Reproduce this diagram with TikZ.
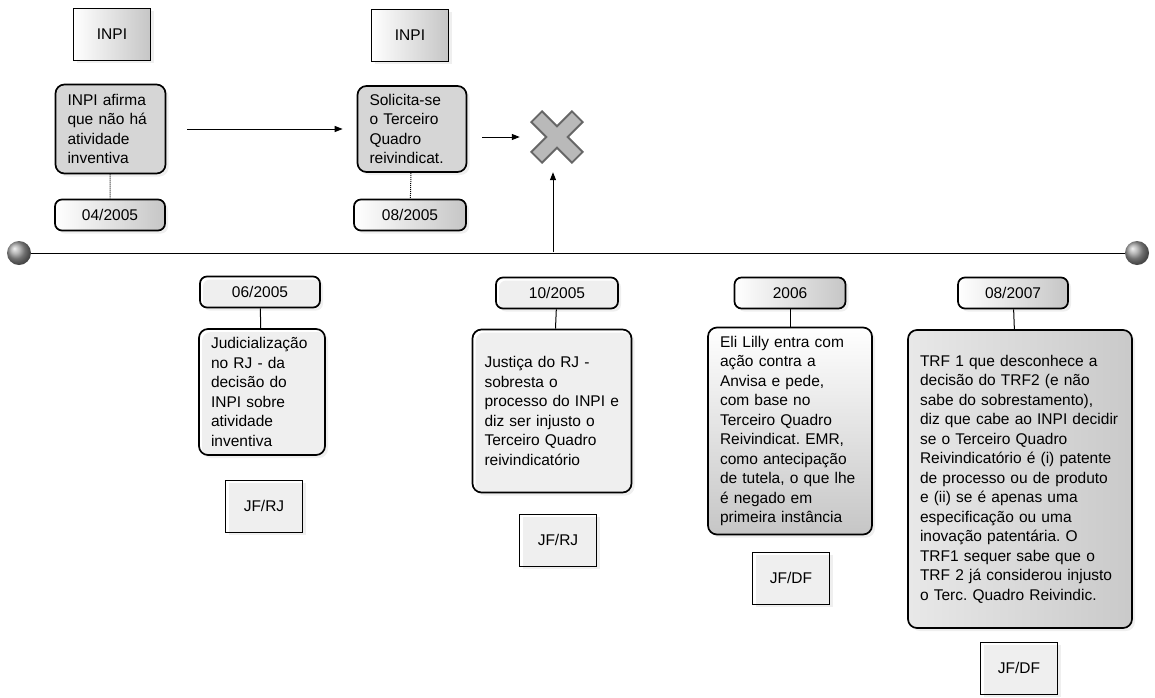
\documentclass[tikz,border=0pt]{standalone}
\usepackage{fontspec}
\setmainfont{Liberation Sans}
\usetikzlibrary{arrows.meta,shadows}
\newcommand{\boxfont}{\fontsize{15.5}{19.5}\selectfont\frenchspacing}
\begin{document}
\begin{tikzpicture}[x=1pt, y=-1pt,
    every node/.style={font=\boxfont},
    evbox/.style={draw, rounded corners=9pt, line width=1.7pt, align=left, inner xsep=12pt,
      drop shadow={shadow xshift=3pt, shadow yshift=-3pt, fill=gray!25}},
    datebox/.style={draw, rounded corners=7pt, line width=1.7pt, minimum height=31pt,
      drop shadow={shadow xshift=3pt, shadow yshift=-3pt, fill=gray!25}},
    srcbox/.style={draw, line width=0.9pt, minimum width=77pt, minimum height=52pt,
      drop shadow={shadow xshift=3pt, shadow yshift=-3pt, fill=gray!25}},
    greyfill/.style={fill=gray!32},
    fadefill/.style={left color=white, right color=gray!45},
    ball/.style={circle, minimum size=24pt, inner sep=0pt, shading=ball, ball color=gray!75},
    arr/.style={-{Triangle[length=8pt,width=6pt]}, line width=1pt}]
  \useasboundingbox (0,0) rectangle (1155,697);

  \node[ball] (tstart) at (19,253) {};
  \node[ball] (tend) at (1137,253) {};
  \draw[line width=1pt] (tstart) -- (tend);

  \node[srcbox, fadefill] (src1) at (112,34) {INPI};
  \node[evbox, greyfill, text width=86pt, minimum height=89pt] (ev1) at (110.5,129) {INPI afirma\\que não há\\atividade\\inventiva};
  \node[datebox, fadefill, minimum width=110pt] (d1) at (110,215) {04/2005};
  \draw[densely dotted, line width=1pt] (ev1) -- (d1);

  \node[srcbox, fadefill] (src2) at (410,35) {INPI};
  \node[evbox, greyfill, text width=85pt, minimum height=86pt] (ev2) at (412,129) {Solicita-se\\o Terceiro\\Quadro\\reivindicat.};
  \node[datebox, fadefill, minimum width=112pt] (d2) at (410,215) {08/2005};
  \draw[densely dotted, line width=1pt] (ev2) -- (d2);

  \node[minimum size=50pt, inner sep=0pt] (stop) at (557,137) {};
  \draw[line width=17pt, black!60, shorten <=6pt, shorten >=6pt] (stop.north west) -- (stop.south east);
  \draw[line width=17pt, black!60, shorten <=6pt, shorten >=6pt] (stop.north east) -- (stop.south west);
  \draw[line width=13pt, gray!55, shorten <=8pt, shorten >=8pt] (stop.north west) -- (stop.south east);
  \draw[line width=13pt, gray!55, shorten <=8pt, shorten >=8pt] (stop.north east) -- (stop.south west);

  \draw[arr, shorten <=21pt, shorten >=14pt] (ev1) -- (ev2);
  \draw[arr, shorten <=15pt, shorten >=12pt] (ev2.east |- stop) -- (stop);
  \coordinate (tl) at (553,252);
  \draw[arr, shorten >=10pt] (tl) -- (tl |- stop.south);

  \node[datebox, minimum width=120pt] (d3) at (260,292) {06/2005};
  \node[evbox, text width=102pt, minimum height=126pt] (ev3) at (262,392) {Judicialização\\no RJ - da\\decisão do\\INPI sobre\\atividade\\inventiva};
  \node[srcbox] (src3) at (264,506) {JF/RJ};
  \draw[line width=1pt] (d3) -- (ev3);

  \node[datebox, minimum width=122pt] (d4) at (557,293) {10/2005};
  \node[evbox, text width=135pt, minimum height=163pt] (ev4) at (552,411) {Justiça do RJ -\\sobresta o\\processo do INPI e\\diz ser injusto o\\Terceiro Quadro\\reivindicatório};
  \node[srcbox] (src4) at (558,540) {JF/RJ};
  \draw[line width=1pt] (d4) -- (ev4);

  \node[datebox, fadefill, minimum width=111pt] (d5) at (790,293) {2006};
  \node[evbox, top color=white, bottom color=gray!45, text width=140pt, minimum height=207pt] (ev5) at (790,431) {Eli Lilly entra com\\ação contra a\\Anvisa e pede,\\com base no\\Terceiro Quadro\\Reivindicat. EMR,\\como antecipação\\de tutela, o que lhe\\é negado em\\primeira instância};
  \node[srcbox] (src5) at (791,578) {JF/DF};
  \draw[line width=1pt] (d5) -- (ev5);

  \node[datebox, fadefill, minimum width=110pt] (d6) at (1013,293) {08/2007};
  \node[evbox, left color=gray!18, right color=gray!42, text width=200pt, minimum height=298pt] (ev6) at (1020,479) {TRF 1 que desconhece a\\decisão do TRF2 (e não\\sabe do sobrestamento),\\diz que cabe ao INPI decidir\\se o Terceiro Quadro\\Reivindicatório é (i) patente\\de processo ou de produto\\e (ii) se é apenas uma\\especificação ou uma\\inovação patentária. O\\TRF1 sequer sabe que o\\TRF 2 já considerou injusto\\o Terc. Quadro Reivindic.};
  \node[srcbox] (src6) at (1019,668) {JF/DF};
  \draw[line width=1pt] (d6) -- (ev6);
\end{tikzpicture}
\end{document}
